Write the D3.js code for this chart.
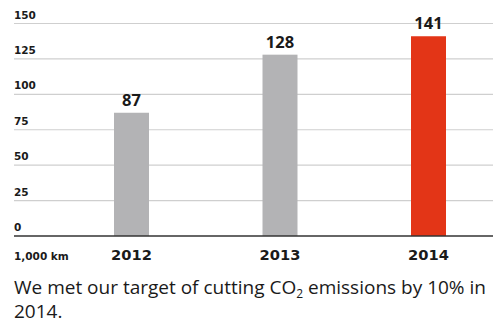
<!DOCTYPE html>
<html>
<head>
<meta charset="utf-8">
<script src="https://cdn.jsdelivr.net/npm/d3@7"></script>
<style>
  html, body { margin: 0; padding: 0; background: #fff; }
  svg { display: block; font-family: "Open Sans", sans-serif; }
</style>
</head>
<body>
<svg id="chart" width="494" height="324"></svg>
<script>
// Distance covered, in thousands of km
const years = ["2012", "2013", "2014"];
const values = [87, 128, 141];
const barColors = ["#b3b3b5", "#b3b3b5", "#e33517"];
const yTicks = [0, 25, 50, 75, 100, 125, 150];
const unitLabel = "1,000 km";

const svg = d3.select("#chart");
const left = 14, right = 493;
const y = d3.scaleLinear().domain([0, 150]).range([236, 23.5]);
const x = d3.scalePoint().domain(years).range([131.5, 428.5]);
const barW = 35;
const axisFont = "'DejaVu Sans', sans-serif";

// gridlines with labels sitting above them
const grid = svg.append("g");
grid.selectAll("line").data(yTicks.filter(d => d > 0)).join("line")
  .attr("x1", left).attr("x2", right)
  .attr("y1", d => y(d)).attr("y2", d => y(d))
  .attr("stroke", "#cfcfcf").attr("stroke-width", 1.2);
grid.selectAll("text").data(yTicks).join("text")
  .attr("x", left).attr("y", d => y(d) - 5)
  .attr("font-family", axisFont)
  .attr("font-size", 10.5).attr("font-weight", 700).attr("fill", "#1a1a1a")
  .text(d => d);

// bars
svg.append("g").selectAll("rect").data(values).join("rect")
  .attr("x", (d, i) => x(years[i]) - barW / 2)
  .attr("y", d => y(d))
  .attr("width", barW)
  .attr("height", d => y(0) - y(d))
  .attr("fill", (d, i) => barColors[i]);

// baseline
svg.append("line").attr("x1", left).attr("x2", right)
  .attr("y1", y(0)).attr("y2", y(0))
  .attr("stroke", "#333").attr("stroke-width", 1.5);

// value labels
svg.append("g").selectAll("text").data(values).join("text")
  .attr("x", (d, i) => x(years[i]))
  .attr("y", d => y(d) - 7)
  .attr("text-anchor", "middle")
  .attr("font-size", 16.5).attr("font-weight", 700).attr("fill", "#1a1a1a")
  .text(d => d);

// category axis
svg.append("g").selectAll("text").data(years).join("text")
  .attr("x", d => x(d)).attr("y", 259.5)
  .attr("text-anchor", "middle")
  .attr("font-family", axisFont)
  .attr("font-size", 14.7).attr("font-weight", 700).attr("fill", "#1a1a1a")
  .text(d => d);

svg.append("text").attr("x", left).attr("y", 259.5)
  .attr("font-family", axisFont)
  .attr("font-size", 10.5).attr("font-weight", 700).attr("fill", "#1a1a1a")
  .text(unitLabel);

// caption
const cap = svg.append("text").attr("x", left).attr("y", 294)
  .attr("font-size", 19).attr("fill", "#1a1a1a");
cap.append("tspan").text("We met our target of cutting CO");
cap.append("tspan").attr("font-size", 12).attr("dy", 4).text("2");
cap.append("tspan").attr("dy", -4).text(" emissions by 10% in");
svg.append("text").attr("x", left).attr("y", 318)
  .attr("font-size", 19).attr("fill", "#1a1a1a").text("2014.");
</script>
</body>
</html>
